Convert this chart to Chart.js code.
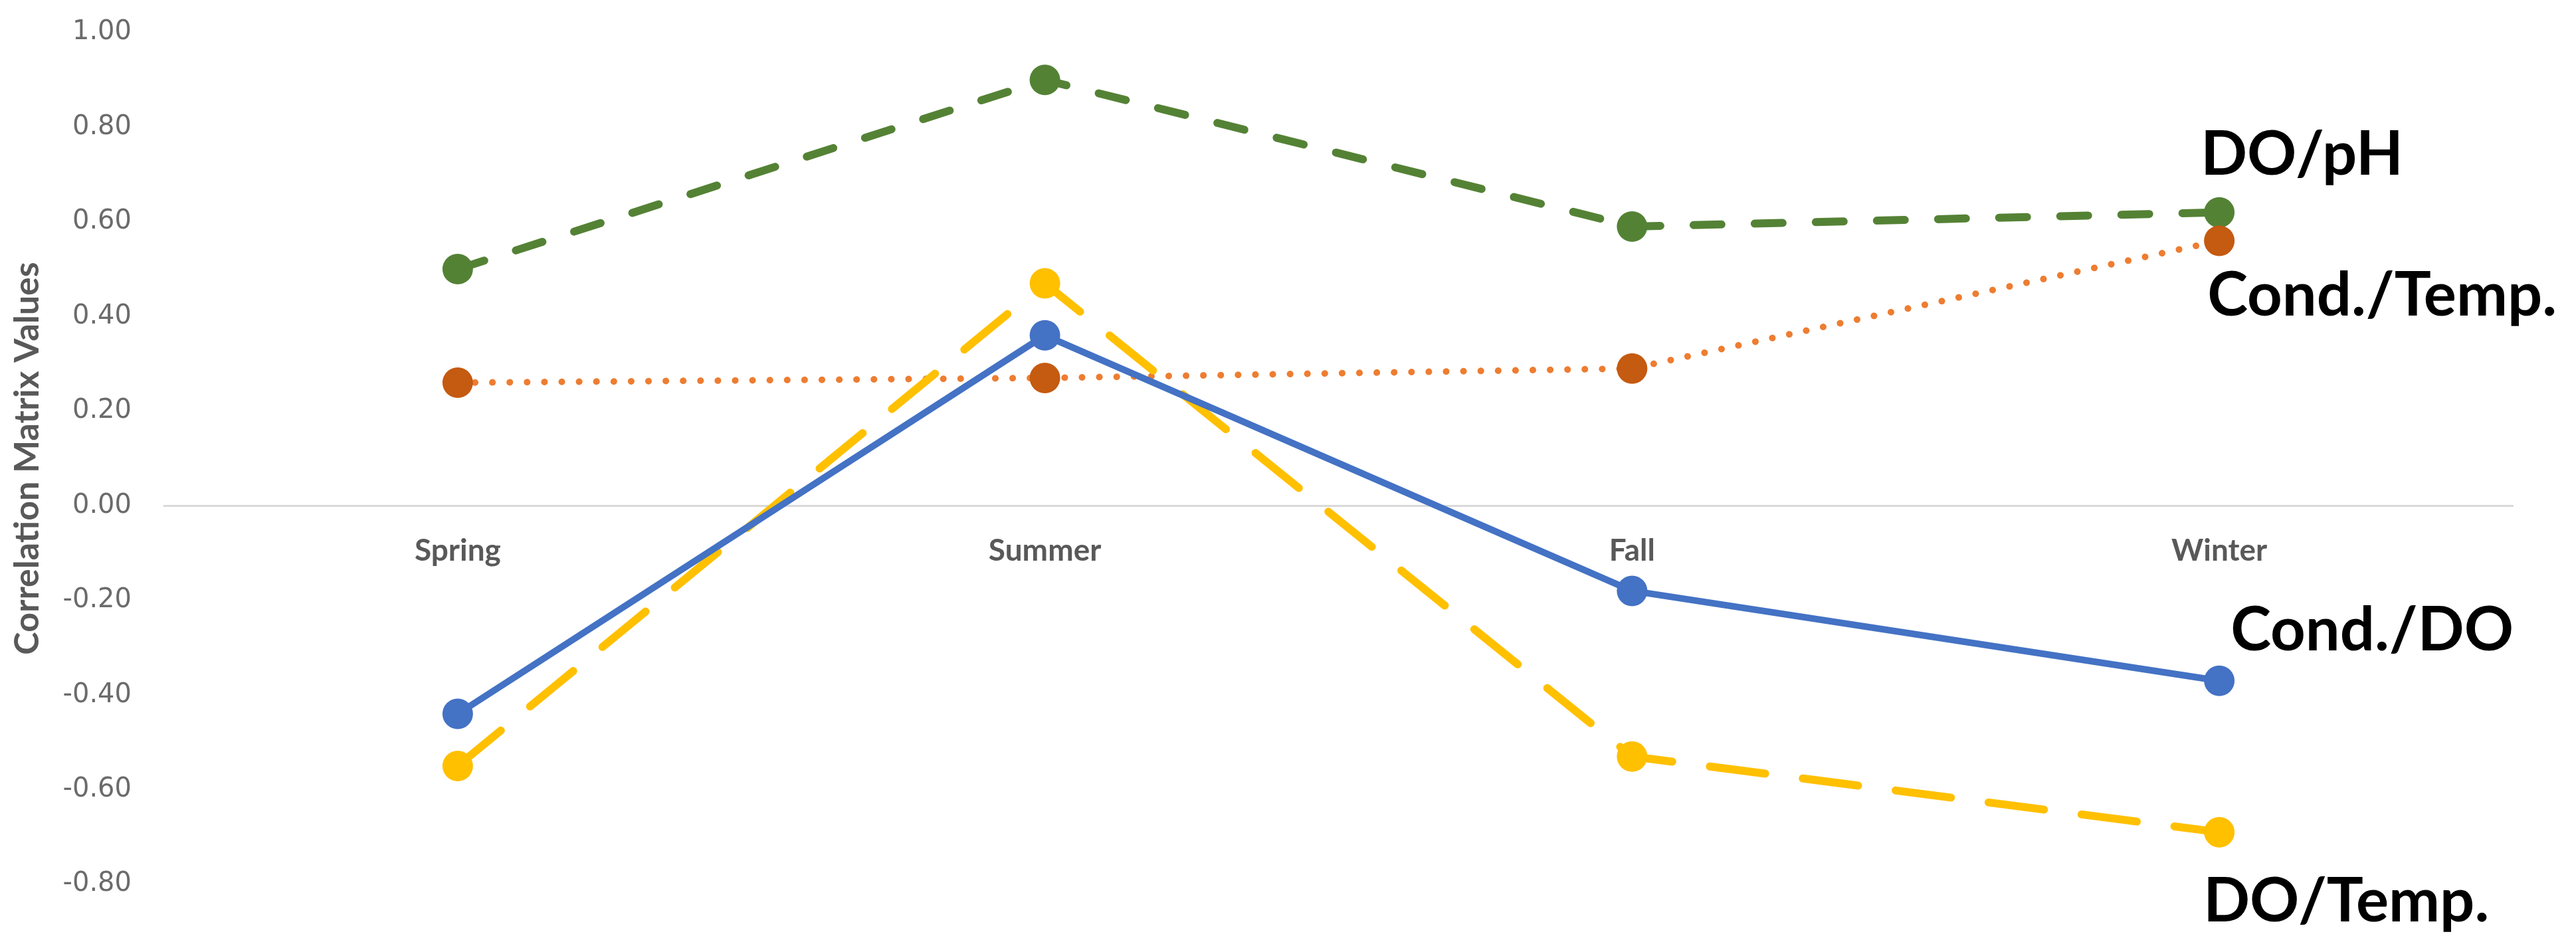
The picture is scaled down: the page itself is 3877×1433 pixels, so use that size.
<!DOCTYPE html>
<html>
<head>
<meta charset="utf-8">
<script src="https://cdn.jsdelivr.net/npm/chart.js@4.4.1/dist/chart.umd.min.js"></script>
<style>
    html, body { margin: 0; padding: 0; background: #fff; }
    #wrap { width: 3877px; height: 1433px; position: relative; }
</style>
</head>
<body>
<div id="wrap"><canvas id="chart"></canvas></div>
<script>
/* ─── data ─────────────────────────────────────────────────────────────── */
const seasons = ['Spring', 'Summer', 'Fall', 'Winter'];
const condDO = [-0.44, 0.36, -0.18, -0.37];
const doTemp = [-0.55, 0.47, -0.53, -0.69];
const condTemp = [0.26, 0.27, 0.29, 0.56];
const doPH = [0.50, 0.90, 0.59, 0.62];
const yTicks = { min: -0.8, max: 1.0, step: 0.2 };

/* end-of-line labels: offset from the last point (px) */
const endLabels = [
    { text: 'Cond./DO', dx: 17, dy: -46 },
    { text: 'DO/Temp.', dx: -24, dy: 134 },
    { text: 'Cond./Temp.', dx: -18, dy: 113 },
    { text: 'DO/pH', dx: -28, dy: -57 },
];

const endLabelPlugin = {
    id: 'endLabels',
    afterDatasetsDraw(chart) {
        const ctx = chart.ctx;
        ctx.save();
        ctx.font = 'bold 92px Lato';
        ctx.fillStyle = '#000';
        ctx.textAlign = 'left';
        ctx.textBaseline = 'alphabetic';
        chart.data.datasets.forEach((ds, i) => {
            const meta = chart.getDatasetMeta(i);
            const pt = meta.data[meta.data.length - 1];
            const lab = endLabels[i];
            ctx.fillText(lab.text, pt.x + lab.dx, pt.y + lab.dy);
        });
        ctx.restore();
    }
};

function series(label, data, line, marker, width, dash, cap) {
    return {
        label,
        data,
        borderColor: line,
        borderWidth: width,
        borderDash: dash,
        borderCapStyle: cap,
        borderJoinStyle: 'round',
        pointRadius: 23,
        pointHoverRadius: 23,
        pointBackgroundColor: marker,
        pointBorderWidth: 0,
        tension: 0,
        fill: false,
    };
}

new Chart(document.getElementById('chart'), {
    type: 'line',
    data: {
        labels: seasons,
        datasets: [
            series('Cond./DO', condDO, '#4472C4', '#4472C4', 10, [], 'butt'),
            series('DO/Temp.', doTemp, '#FFC000', '#FFC000', 12, [84, 57], 'round'),
            series('Cond./Temp.', condTemp, '#ED7D31', '#C55A11', 10, [0.1, 26], 'round'),
            series('DO/pH', doPH, '#548235', '#548235', 12, [42, 50], 'round'),
        ]
    },
    options: {
        animation: false,
        responsive: true,
        maintainAspectRatio: false,
        layout: { padding: { top: 49, bottom: 102, right: 95, left: 0 } },
        plugins: {
            legend: { display: false },
            tooltip: { enabled: false },
        },
        scales: {
            x: {
                type: 'category',
                offset: true,
                position: { y: 0 },
                grid: { display: false, drawTicks: false },
                border: { display: true, color: '#d9d9d9', width: 3 },
                ticks: {
                    padding: 40,
                    color: '#595959',
                    font: { size: 46, family: 'Lato', weight: 'bold' },
                },
            },
            y: {
                min: yTicks.min,
                max: yTicks.max,
                afterFit(scale) {
                    scale.width = 247;
                    // tick padding should not push the plot area down
                    scale.paddingTop = 0;
                    scale.paddingBottom = 0;
                },
                grid: { display: false, drawTicks: false },
                border: { display: false },
                ticks: {
                    stepSize: yTicks.step,
                    padding: 49,
                    color: '#6b6b6b',
                    font: { size: 40, family: 'DejaVu Sans' },
                    callback: v => (Math.abs(v) < 1e-9 ? 0 : v).toFixed(2),
                },
                title: {
                    display: true,
                    text: 'Correlation Matrix Values',
                    color: '#595959',
                    padding: { top: 10, bottom: 0 },
                    font: { size: 52, family: 'Lato', weight: 'bold' },
                },
            }
        }
    },
    plugins: [endLabelPlugin]
});
</script>
</body>
</html>
